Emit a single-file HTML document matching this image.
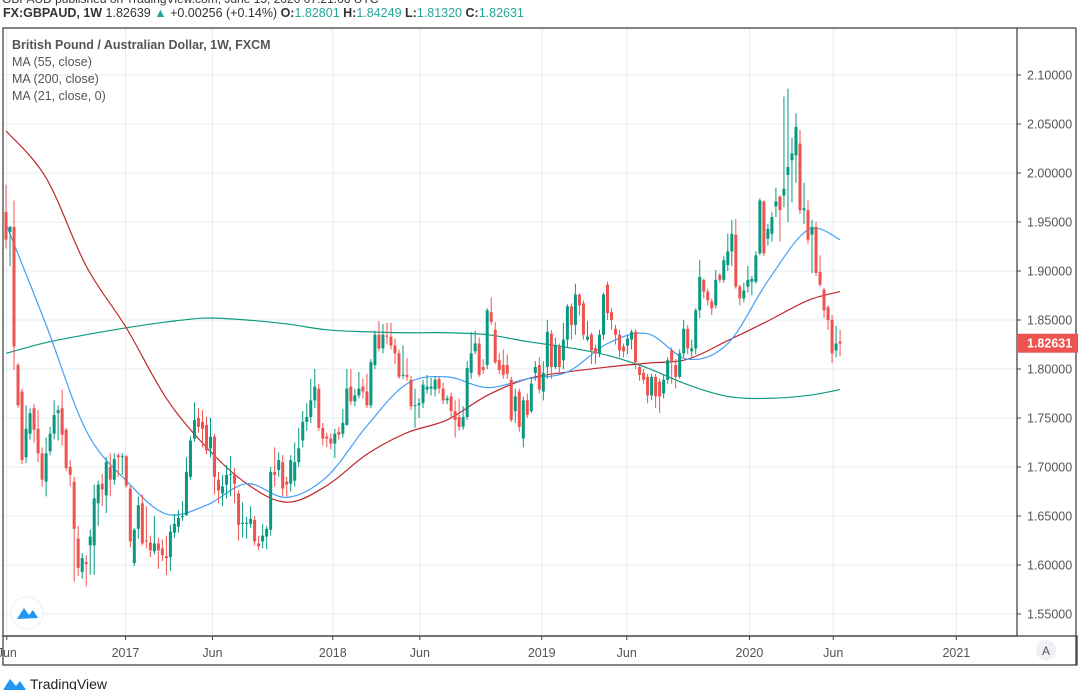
<!DOCTYPE html>
<html><head><meta charset="utf-8"><style>
body{margin:0;background:#fff;width:1078px;height:690px;overflow:hidden;font-family:"Liberation Sans",sans-serif;}
svg{position:absolute;left:0;top:0}
</style></head><body>
<svg id="c" width="1078" height="690" xmlns="http://www.w3.org/2000/svg">
<text x="2" y="3" font-size="12" fill="#333">GBPAUD published on TradingView.com, June 15, 2020 07:21:06 UTC</text>
<g font-size="12.5">
<text x="3" y="17" fill="#333"><tspan font-weight="bold">FX:GBPAUD, 1W</tspan> 1.82639 <tspan fill="#26a69a">▲</tspan> +0.00256 (+0.14%) <tspan font-weight="bold">O:</tspan><tspan fill="#26a69a">1.82801</tspan> <tspan font-weight="bold">H:</tspan><tspan fill="#26a69a">1.84249</tspan> <tspan font-weight="bold">L:</tspan><tspan fill="#26a69a">1.81320</tspan> <tspan font-weight="bold">C:</tspan><tspan fill="#26a69a">1.82631</tspan></text>
</g>
<g id="grid"></g>
<g id="ma"></g>
<g id="candles"></g>
<rect x="3" y="28" width="1014" height="608" fill="none" stroke="#444" stroke-width="1.3"/>
<rect x="3" y="636" width="1074" height="29" fill="none" stroke="#444" stroke-width="1.3"/>
<line x1="1076" y1="28" x2="1076" y2="665" stroke="#444" stroke-width="1.3"/>
<line x1="1017" y1="28" x2="1076" y2="28" stroke="#444" stroke-width="1.3"/>
<g id="yaxis"></g>
<g id="xaxis"></g>
<g font-size="12.5" fill="#555">
<text x="12" y="49" font-weight="bold">British Pound / Australian Dollar, 1W, FXCM</text>
<text x="12" y="66">MA (55, close)</text>
<text x="12" y="83">MA (200, close)</text>
<text x="12" y="100">MA (21, close, 0)</text>
</g>
<g><circle cx="27" cy="613" r="16" fill="#fff" stroke="#eee"/><path d="M17 619 L24 608 L29 615 L33 610 L38 618 Z" fill="#2196f3"/></g>
<circle cx="1046" cy="650" r="10" fill="#eef0f3"/>
<text x="1046" y="655" font-size="12" fill="#555" text-anchor="middle">A</text>
<g><path d="M3 690 L10 679 L16 686 L20 681 L26 690 Z" fill="#2196f3"/><text x="30" y="689" font-size="14" fill="#222">TradingView</text></g>
</svg>
<script>
const O=[1.960,1.940,1.945,1.804,1.777,1.710,1.734,1.760,1.739,1.714,1.685,1.716,1.734,1.755,1.760,1.738,1.700,1.685,1.627,1.593,1.603,1.620,1.620,1.663,1.683,1.671,1.700,1.687,1.712,1.710,1.711,1.678,1.602,1.637,1.663,1.625,1.623,1.614,1.622,1.617,1.609,1.608,1.633,1.639,1.649,1.651,1.690,1.729,1.750,1.746,1.743,1.719,1.731,1.687,1.673,1.682,1.692,1.693,1.673,1.642,1.642,1.642,1.646,1.622,1.624,1.629,1.636,1.695,
1.697,1.705,1.685,1.683,1.686,1.705,1.727,1.746,1.751,1.768,1.780,1.740,1.731,1.729,1.724,1.736,1.734,1.743,1.782,1.767,1.773,1.782,1.777,1.763,1.804,1.835,1.821,1.834,1.833,1.824,1.816,1.794,1.794,1.789,1.762,1.763,1.765,1.779,1.780,1.779,1.790,1.780,1.768,1.772,1.757,1.751,1.741,1.751,1.796,1.818,1.826,1.802,1.804,1.858,1.840,1.809,1.804,1.804,1.789,1.757,1.777,1.729,1.768,1.757,1.796,1.804,
1.777,1.802,1.836,1.802,1.823,1.809,1.830,1.864,1.845,1.876,1.867,1.830,1.835,1.821,1.816,1.835,1.886,1.858,1.841,1.835,1.823,1.824,1.830,1.838,1.802,1.796,1.792,1.773,1.792,1.787,1.775,1.789,1.819,1.804,1.792,1.816,1.841,
1.818,1.821,1.860,1.891,1.879,1.869,1.865,1.896,1.891,1.906,1.920,1.937,1.884,1.872,1.884,1.889,1.889,1.918,1.971,1.933,1.938,1.966,1.976,1.977,1.998,2.013,2.018,2.030,1.962,1.962,1.937,1.945,1.899,1.881,1.863,1.850,1.819,1.828];
const C=[1.932,1.945,1.823,1.763,1.707,1.739,1.755,1.738,1.714,1.687,1.714,1.734,1.753,1.758,1.733,1.699,1.692,1.637,1.597,1.607,1.601,1.629,1.668,1.682,1.677,1.705,1.687,1.708,1.710,1.711,1.681,1.624,1.636,1.661,1.622,1.624,1.615,1.622,1.615,1.610,1.607,1.634,1.642,1.648,1.650,1.695,1.727,1.748,1.741,1.739,1.717,1.731,1.690,1.676,1.680,1.692,1.693,1.683,1.641,1.643,1.643,1.647,1.624,1.619,1.630,1.637,1.695,1.692,
1.707,1.678,1.682,1.707,1.705,1.719,1.746,1.751,1.768,1.782,1.740,1.729,1.729,1.724,1.734,1.733,1.745,1.780,1.767,1.773,1.780,1.777,1.763,1.807,1.835,1.821,1.835,1.833,1.824,1.816,1.792,1.794,1.792,1.762,1.763,1.765,1.784,1.782,1.782,1.789,1.780,1.768,1.770,1.757,1.748,1.741,1.751,1.801,1.816,1.826,1.794,1.799,1.860,1.848,1.807,1.799,1.794,1.795,1.748,1.772,1.741,1.768,1.753,1.785,1.802,1.779,
1.796,1.838,1.802,1.824,1.802,1.830,1.864,1.845,1.876,1.865,1.835,1.833,1.819,1.816,1.835,1.876,1.857,1.850,1.835,1.819,1.818,1.831,1.838,1.807,1.794,1.789,1.773,1.792,1.772,1.772,1.789,1.809,1.807,1.792,1.816,1.841,1.821,
1.821,1.860,1.894,1.879,1.870,1.862,1.891,1.891,1.911,1.920,1.938,1.884,1.872,1.880,1.891,1.892,1.916,1.972,1.918,1.943,1.955,1.971,1.962,1.984,2.006,2.020,2.047,1.962,1.964,1.932,1.945,1.898,1.886,1.860,1.850,1.816,1.826,1.826];
const H=[1.988,1.946,1.972,1.806,1.780,1.763,1.760,1.764,1.758,1.720,1.730,1.741,1.768,1.763,1.779,1.740,1.707,1.690,1.640,1.612,1.610,1.636,1.682,1.686,1.693,1.710,1.714,1.714,1.714,1.714,1.712,1.681,1.638,1.670,1.672,1.660,1.630,1.650,1.628,1.626,1.630,1.641,1.652,1.656,1.665,1.710,1.731,1.766,1.760,1.758,1.751,1.750,1.734,1.695,1.692,1.702,1.711,1.699,1.676,1.664,1.649,1.660,1.650,1.630,1.642,1.640,1.700,1.720,
1.715,1.712,1.690,1.712,1.725,1.740,1.757,1.765,1.790,1.800,1.785,1.745,1.735,1.734,1.739,1.741,1.759,1.800,1.800,1.780,1.797,1.790,1.795,1.810,1.839,1.849,1.846,1.847,1.847,1.831,1.820,1.824,1.811,1.793,1.780,1.770,1.789,1.794,1.791,1.792,1.792,1.786,1.773,1.776,1.768,1.770,1.762,1.808,1.838,1.839,1.832,1.810,1.862,1.873,1.848,1.816,1.820,1.815,1.792,1.780,1.780,1.772,1.775,1.792,1.808,1.812,
1.808,1.850,1.840,1.832,1.826,1.847,1.866,1.867,1.887,1.877,1.870,1.849,1.837,1.825,1.840,1.878,1.889,1.862,1.845,1.840,1.826,1.835,1.840,1.840,1.805,1.800,1.795,1.795,1.795,1.790,1.794,1.812,1.822,1.810,1.820,1.850,1.845,
1.830,1.862,1.911,1.892,1.882,1.872,1.901,1.898,1.915,1.938,1.952,1.953,1.886,1.888,1.905,1.895,1.920,1.974,1.972,1.948,1.960,1.985,1.977,2.078,2.086,2.036,2.061,2.044,1.990,1.972,1.952,1.950,1.916,1.883,1.865,1.855,1.844,1.840];
const L=[1.923,1.905,1.799,1.760,1.703,1.704,1.728,1.725,1.705,1.680,1.670,1.712,1.728,1.727,1.722,1.696,1.680,1.583,1.589,1.586,1.578,1.590,1.590,1.640,1.660,1.653,1.670,1.682,1.690,1.692,1.679,1.618,1.599,1.627,1.620,1.617,1.608,1.611,1.596,1.604,1.590,1.594,1.628,1.633,1.645,1.650,1.687,1.726,1.735,1.720,1.713,1.710,1.672,1.663,1.660,1.668,1.670,1.663,1.625,1.628,1.627,1.638,1.620,1.615,1.617,1.616,1.630,1.680,
1.690,1.670,1.670,1.675,1.680,1.700,1.720,1.737,1.745,1.760,1.737,1.722,1.720,1.718,1.709,1.728,1.730,1.742,1.763,1.762,1.770,1.770,1.760,1.760,1.800,1.818,1.816,1.825,1.820,1.805,1.790,1.790,1.788,1.758,1.740,1.750,1.760,1.775,1.773,1.772,1.775,1.764,1.764,1.750,1.730,1.737,1.738,1.748,1.790,1.815,1.792,1.795,1.800,1.845,1.805,1.795,1.790,1.790,1.746,1.745,1.736,1.720,1.750,1.755,1.788,1.775,
1.768,1.790,1.790,1.800,1.795,1.800,1.822,1.830,1.835,1.855,1.830,1.828,1.805,1.805,1.812,1.830,1.850,1.840,1.825,1.812,1.812,1.815,1.820,1.800,1.788,1.785,1.765,1.768,1.760,1.755,1.770,1.785,1.785,1.780,1.790,1.812,1.815,
1.812,1.815,1.852,1.872,1.865,1.855,1.862,1.888,1.888,1.900,1.905,1.882,1.865,1.868,1.878,1.875,1.887,1.916,1.915,1.926,1.930,1.955,1.930,1.965,1.950,1.970,1.990,1.958,1.948,1.928,1.898,1.895,1.884,1.852,1.840,1.806,1.812,1.813];
// moving averages sampled every 10 weeks (week index)
const maWeeks=[0,10,20,30,40,50,60,70,80,90,100,110,120,130,140,150,160,170,180,190,200,208];
const ma55=[2.043,1.995,1.905,1.842,1.770,1.720,1.683,1.664,1.681,1.713,1.735,1.748,1.773,1.790,1.797,1.802,1.806,1.810,1.829,1.849,1.870,1.879];
const ma200=[1.816,1.827,1.835,1.842,1.848,1.852,1.850,1.846,1.840,1.838,1.837,1.837,1.835,1.828,1.822,1.814,1.801,1.784,1.772,1.770,1.773,1.779];
const ma21=[1.948,1.845,1.737,1.686,1.652,1.661,1.683,1.669,1.690,1.742,1.785,1.792,1.781,1.790,1.797,1.826,1.836,1.810,1.826,1.890,1.942,1.932];
const priceTicks=[1.55,1.60,1.65,1.70,1.75,1.80,1.85,1.90,1.95,2.00,2.05,2.10];
const timeLabels=["Jun","2017","Jun","2018","Jun","2019","Jun","2020","Jun","2021"];
const timeWeeks=[0.2,29.8,51.5,81.5,103.2,133.6,154.8,185.4,206.3,237];
const lastPrice=1.82631;

const NS="http://www.w3.org/2000/svg";
const y=p=>75+(2.10-p)*980;
const x=i=>6+i*4.01;
function mk(tag,attrs,parent){const e=document.createElementNS(NS,tag);for(const k in attrs)e.setAttribute(k,attrs[k]);parent.appendChild(e);return e;}
const grid=document.getElementById('grid'),ya=document.getElementById('yaxis'),xa=document.getElementById('xaxis');
priceTicks.forEach(p=>{
 const l=mk('line',{x1:3,x2:1017,y1:y(p),y2:y(p),stroke:'#e3ecf3','stroke-width':1},grid);
 
 
 mk('line',{x1:1017,x2:1021,y1:y(p),y2:y(p),stroke:'#444'},ya);
 const t=mk('text',{x:1027,y:y(p)+4.5,'font-size':12.5,fill:'#555'},ya);
 t.textContent=p.toFixed(5);
 
 
});
timeLabels.forEach((s,k)=>{
 const xx=x(timeWeeks[k]);
 const l=mk('line',{x1:xx,x2:xx,y1:28,y2:636,stroke:'#e3ecf3','stroke-width':1},grid);
 
 
 mk('line',{x1:xx,x2:xx,y1:636,y2:640,stroke:'#444'},xa);
 const t=mk('text',{x:xx,y:657,'font-size':12.5,fill:'#555','text-anchor':'middle'},xa);
 t.textContent=s;
 
 
});
const ma=document.getElementById('ma');
function line(vals,color,name){
 let d='';
 // Catmull-Rom smoothing
 const pts=maWeeks.map((w,k)=>[x(w),y(vals[k])]);
 d='M'+pts[0][0]+' '+pts[0][1];
 for(let k=0;k<pts.length-1;k++){
  const p0=pts[Math.max(0,k-1)],p1=pts[k],p2=pts[k+1],p3=pts[Math.min(pts.length-1,k+2)];
  d+=' C'+(p1[0]+(p2[0]-p0[0])/6)+' '+(p1[1]+(p2[1]-p0[1])/6)+' '+(p2[0]-(p3[0]-p1[0])/6)+' '+(p2[1]-(p3[1]-p1[1])/6)+' '+p2[0]+' '+p2[1];
 }
 const e=mk('path',{d:d,fill:'none',stroke:color,'stroke-width':1.2},ma);
 
 
}
line(ma200,'#0f9a80','ma200-line');
line(ma55,'#c0282c','ma55-line');
line(ma21,'#42a0f5','ma21-line');
const cg=document.getElementById('candles');
O.forEach((o,i)=>{
 const c=C[i],col=c>=o?'#089981':'#ef5350',cx=x(i);
 const w=mk('line',{x1:cx,x2:cx,y1:y(H[i]),y2:y(L[i]),stroke:col,'stroke-width':1},cg);
 
 
 const top=y(Math.max(o,c)),h=Math.max(1,Math.abs(y(o)-y(c)));
 const b=mk('rect',{x:cx-1.5,y:top,width:3,height:h,fill:col},cg);
 
 
});
const lp=mk('rect',{x:1018,y:y(lastPrice)-9.5,width:60,height:19,fill:'#ef5350'},ya);


const lt=mk('text',{x:1027,y:y(lastPrice)+4.5,'font-size':12.5,fill:'#fff','font-weight':'bold'},ya);
lt.textContent=lastPrice.toFixed(5);


</script>
</body></html>
